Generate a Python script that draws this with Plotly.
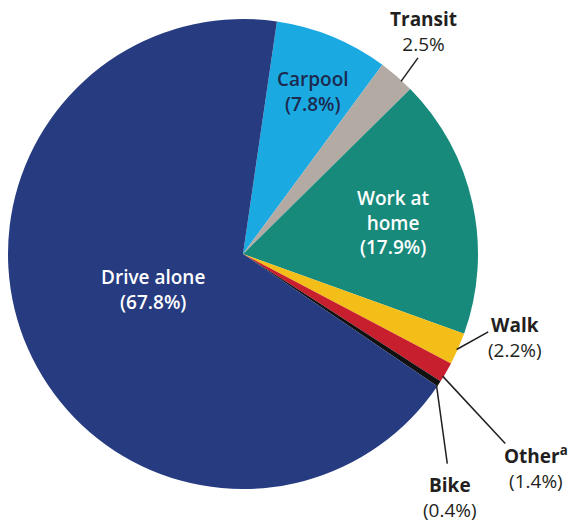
import math
import plotly.graph_objects as go

# ---- data ----
labels = ["Carpool", "Transit", "Work at home", "Walk", "Other", "Bike", "Drive alone"]
values = [7.8, 2.5, 17.9, 2.2, 1.4, 0.4, 67.8]
label_names = ["Carpool", "Transit", "Work at<br>home", "Walk", "Other<sup>a</sup>", "Bike", "Drive alone"]
value_texts = ["(7.8%)", "2.5%", "(17.9%)", "(2.2%)", "(1.4%)", "(0.4%)", "(67.8%)"]
colors = ["#1ba9e2", "#b3aaa4", "#178a7c", "#f4be19", "#c81f2e", "#111111", "#263b80"]

# ---- layout geometry ----
W, H = 570, 524
CX, CY, R = 243, 254, 235
ROT = 8.3
FONT = "Open Sans"

fig = go.Figure(go.Pie(
    labels=labels, values=values, sort=False, direction="clockwise",
    rotation=ROT, marker=dict(colors=colors, line=dict(width=0)),
    textinfo="none", hoverinfo="skip", showlegend=False,
    domain=dict(x=[(CX - R) / W, (CX + R) / W], y=[1 - (CY + R) / H, 1 - (CY - R) / H]),
))

total = sum(values)
mids = []
acc = ROT
for v in values:
    span = 360 * v / total
    mids.append(acc + span / 2)
    acc += span


def polar(ang, r):
    a = math.radians(ang)
    return CX + r * math.sin(a), CY - r * math.cos(a)


def px2p(x, y):
    return x / W, 1 - y / H


# inside labels: radial fraction, nudge (px), text color
inside = {
    "Carpool": (0.752, (3, 1), "#1b2a4e"),
    "Work at home": (0.65, (1, 1), "#ffffff"),
    "Drive alone": (0.415, (-1, -4), "#ffffff"),
}
# outside labels: line-start angle nudge, line end offset, text centre offset (px from edge point)
outside = {
    "Transit": (1.6, (22.5, -20), (28, -46)),
    "Walk": (0.3, (32, -16), (59, -10)),
    "Other": (1.2, (61, 72), (92, 96)),
    "Bike": (0.7, (10, 81), (13, 115)),
}

annotations = []
shapes = []
for lab, name, val, mid in zip(labels, label_names, value_texts, mids):
    if lab in inside:
        frac, (nx, ny), col = inside[lab]
        cx, cy = polar(mid, frac * R)
        cx, cy = cx + nx, cy + ny
        text = f"{name}<br>{val}"
        weight = 600
    else:
        dang, (lx, ly), (tx, ty) = outside[lab]
        ex, ey = polar(mid, R - 2)
        sx, sy = polar(mid + dang, R - 1)
        x0, y0 = px2p(sx, sy)
        x1, y1 = px2p(ex + lx, ey + ly)
        shapes.append(dict(type="line", xref="paper", yref="paper", x0=x0, y0=y0, x1=x1, y1=y1,
                           line=dict(color="#231f20", width=1.5)))
        cx, cy = ex + tx, ey + ty
        col = "#231f20"
        text = f"<b>{name}</b><br>{val}"
        weight = 400
    px, py = px2p(cx, cy)
    annotations.append(dict(x=px, y=py, xref="paper", yref="paper", text=text, showarrow=False,
                            xanchor="center", yanchor="middle", align="center",
                            font=dict(family=FONT, size=19, color=col, weight=weight)))

fig.update_layout(
    width=W, height=H, margin=dict(l=0, r=0, t=0, b=0),
    paper_bgcolor="white", plot_bgcolor="white",
    annotations=annotations, shapes=shapes,
)
fig.write_html("out.html", config={"displayModeBar": False},
               post_script="document.body.style.margin='0px';document.body.style.padding='0px';")
